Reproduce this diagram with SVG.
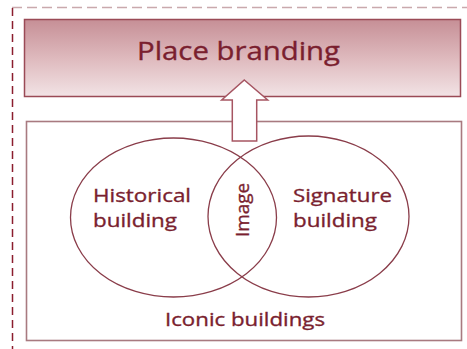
<svg xmlns="http://www.w3.org/2000/svg" width="467" height="349" viewBox="0 0 467 349">
<defs>
<linearGradient id="g1" x1="0" y1="0" x2="0" y2="1">
<stop offset="0" stop-color="#c68f96"/>
<stop offset="0.5" stop-color="#deb9bd"/>
<stop offset="1" stop-color="#f2e3e5"/>
</linearGradient>
</defs>
<style>
.t{font-family:"Open Sans","DejaVu Sans",sans-serif;fill:#7a1f2f;stroke:#7a1f2f;stroke-width:0.35}
.el{fill:none;stroke:#8a3d4a;stroke-width:1.3}
</style>
<rect width="467" height="349" fill="#ffffff"/>
<g id="frame">
<line x1="12" y1="7.5" x2="467" y2="7.5" stroke="#c9a9ad" stroke-width="1.3" stroke-dasharray="10 5"/>
<line x1="12.5" y1="8" x2="12.5" y2="349" stroke="#8b1d2e" stroke-width="1.5" stroke-dasharray="8 5"/>
</g>
<g id="place-branding">
<rect x="24.5" y="19.5" width="436" height="77" fill="url(#g1)" stroke="#9a4a56" stroke-width="1.5"/>
<text class="t" x="238.5" y="60" font-size="25.5" text-anchor="middle" textLength="203" lengthAdjust="spacingAndGlyphs">Place branding</text>
</g>
<g id="iconic-buildings">
<rect x="26.5" y="121.5" width="435" height="219" fill="none" stroke="#a87a80" stroke-width="1.6"/>
<text class="t" x="245" y="326" font-size="18.7" text-anchor="middle" textLength="160" lengthAdjust="spacingAndGlyphs">Iconic buildings</text>
</g>
<g id="historical-building">
<ellipse class="el" cx="173.5" cy="217.5" rx="103" ry="79.5"/>
<text class="t" x="93" y="202" font-size="18.7" textLength="98" lengthAdjust="spacingAndGlyphs">Historical</text>
<text class="t" x="93" y="227" font-size="18.7" textLength="84" lengthAdjust="spacingAndGlyphs">building</text>
</g>
<g id="signature-building">
<ellipse class="el" cx="308.5" cy="216.5" rx="100.5" ry="80.5"/>
<text class="t" x="293" y="202" font-size="18.7" textLength="99" lengthAdjust="spacingAndGlyphs">Signature</text>
<text class="t" x="293" y="227" font-size="18.7" textLength="84" lengthAdjust="spacingAndGlyphs">building</text>
</g>
<g id="image">
<text class="t" font-size="19" text-anchor="middle" transform="translate(249,210) rotate(-90)" textLength="54" lengthAdjust="spacingAndGlyphs">Image</text>
</g>
<g id="connectors">
<path d="M244.3,80 L267.7,100 L256.7,100 L256.7,141 L232.3,141 L232.3,100 L221.7,100 Z" fill="#ffffff" stroke="#a65562" stroke-width="1.5" stroke-linejoin="miter"/>
</g>
</svg>
